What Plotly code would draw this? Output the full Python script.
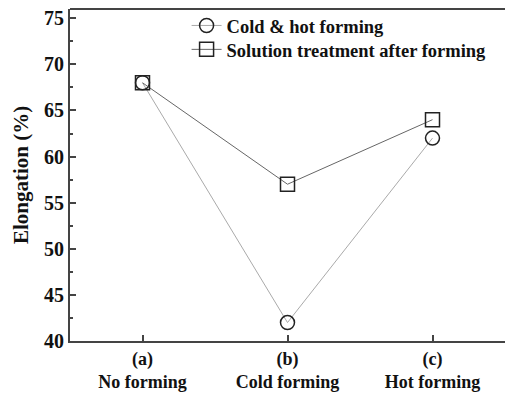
import plotly.graph_objects as go

categories = ["(a)<br>No forming", "(b)<br>Cold forming", "(c)<br>Hot forming"]
cold_hot = [68, 42, 62]
solution = [68, 57, 64]
y_ticks = [40, 45, 50, 55, 60, 65, 70, 75]

font_family = "Liberation Serif, Times New Roman, serif"

fig = go.Figure()
fig.add_trace(go.Scatter(
    x=[0, 1, 2], y=cold_hot, mode="lines+markers", name="Cold & hot forming",
    line=dict(color="#aaaaaa", width=1),
    marker=dict(symbol="circle-open", size=14, color="#222222", line=dict(width=1.5)),
    legend="legend",
))
fig.add_trace(go.Scatter(
    x=[0, 1, 2], y=solution, mode="lines+markers", name="Solution treatment after forming",
    line=dict(color="#666666", width=1),
    marker=dict(symbol="square-open", size=14, color="#222222", line=dict(width=1.5)),
    legend="legend2",
))

# white strip hiding any edge artefact on the right
fig.add_shape(type="rect", xref="paper", yref="paper", x0=0.99, x1=1.0, y0=0.003, y1=0.997,
              fillcolor="white", line=dict(width=0), layer="above")
fig.add_shape(type="line", xref="paper", yref="paper", x0=0, x1=1, y0=1, y1=1,
              line=dict(color="#444444", width=2))

legend_font = dict(size=18.5, family=font_family, weight="bold")
fig.update_layout(
    width=505, height=393,
    margin=dict(l=70, r=0, t=9, b=52),
    plot_bgcolor="white", paper_bgcolor="white",
    font=dict(family=font_family, size=18, color="#111111"),
    showlegend=True,
    legend=dict(x=0.268, y=0.949, xanchor="left", yanchor="middle",
                bgcolor="rgba(0,0,0,0)", font=legend_font, itemwidth=30),
    legend2=dict(x=0.268, y=0.877, xanchor="left", yanchor="middle",
                 bgcolor="rgba(0,0,0,0)", font=legend_font, itemwidth=30),
    xaxis=dict(
        range=[-0.5, 2.5], tickmode="array", tickvals=[0, 1, 2], ticktext=categories,
        showgrid=False, zeroline=False, showline=True, linecolor="#444444", linewidth=2,
        mirror=False, ticks="inside", ticklen=6, tickcolor="#444444", tickwidth=1.5,
        tickfont=dict(size=18, family=font_family, weight="bold"),
    ),
    yaxis=dict(
        range=[40, 76], tickmode="array", tickvals=y_ticks,
        showgrid=False, zeroline=False, showline=True, linecolor="#444444", linewidth=2,
        mirror=False, ticks="inside", ticklen=6, tickcolor="#444444", tickwidth=1.5,
        minor=dict(ticks="inside", ticklen=3, dtick=2.5, tick0=40, tickcolor="#444444", showgrid=False),
        tickfont=dict(size=20, family=font_family, weight="bold"),
        title=dict(text="Elongation (%)", font=dict(size=21, family=font_family, weight="bold"), standoff=10),
    ),
)

fig.write_html("out.html")
